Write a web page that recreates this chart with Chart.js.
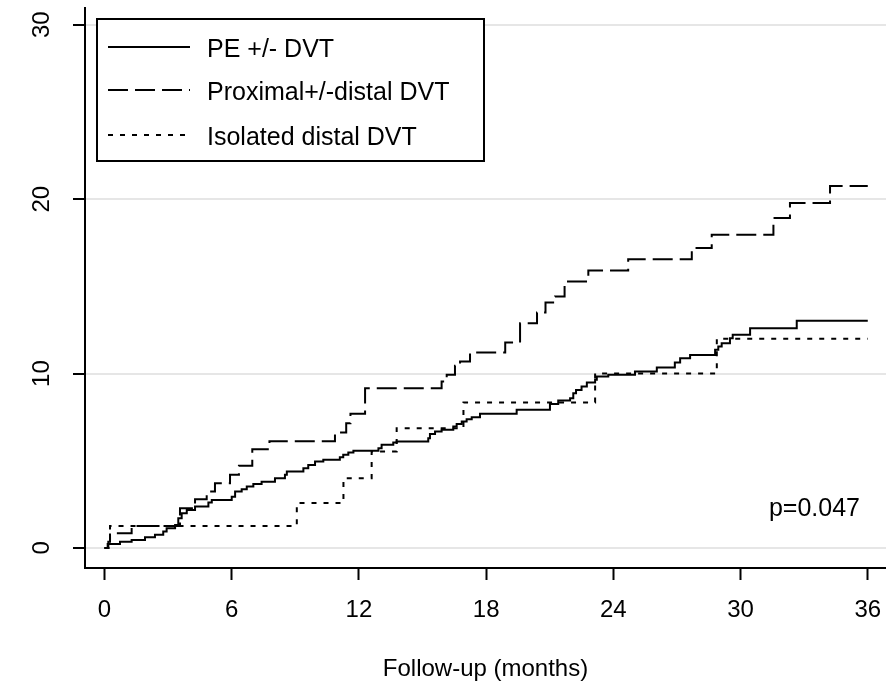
<!DOCTYPE html>
<html>
<head>
<meta charset="utf-8">
<script src="https://cdn.jsdelivr.net/npm/chart.js@4.4.0/dist/chart.umd.min.js"></script>
<style>
    html, body { margin: 0; padding: 0; background: #fff; }
    canvas { display: block; }
</style>
</head>
<body>
<canvas id="graficoIncidencia" width="886" height="684"></canvas>
<script>

// cumulative incidence (%), step changes at these months
const pe_meses = [0, 0.15, 0.73, 1.28, 1.91, 2.38, 2.77, 2.93, 3.33, 3.48, 3.64, 3.88, 4.27, 4.9, 5.06, 6.0, 6.16, 6.47, 6.71, 7.02, 7.41, 8.04, 8.51, 8.6, 9.38, 9.61, 9.93, 10.32, 11.1, 11.26, 11.5, 11.74, 12.92, 13.07, 13.62, 13.78, 15.27, 15.35, 15.59, 15.9, 16.45, 16.61, 16.85, 17.08, 17.32, 17.71, 19.44, 21.01, 21.4, 21.96, 22.11, 22.24, 22.5, 22.75, 23.14, 23.22, 23.76, 25.02, 26.05, 26.9, 27.15, 27.62, 28.8, 28.95, 29.11, 29.5, 29.63, 30.45, 32.65, 36];
const pe_valores = [0, 0.23, 0.36, 0.46, 0.61, 0.75, 0.94, 1.13, 1.32, 1.7, 1.99, 2.18, 2.37, 2.6, 2.75, 2.94, 3.23, 3.37, 3.52, 3.67, 3.8, 4.0, 4.19, 4.38, 4.57, 4.76, 4.95, 5.05, 5.2, 5.34, 5.47, 5.57, 5.72, 5.91, 6.04, 6.1, 6.29, 6.54, 6.67, 6.77, 6.96, 7.11, 7.25, 7.38, 7.5, 7.69, 7.92, 8.26, 8.45, 8.59, 8.87, 9.06, 9.25, 9.48, 9.64, 9.83, 9.93, 10.12, 10.34, 10.63, 10.88, 11.07, 11.36, 11.55, 11.74, 12.03, 12.22, 12.6, 13.02, 13.02];

const prox_meses = [0, 0.18, 0.26, 1.28, 3.56, 4.27, 4.82, 5.21, 5.92, 6.34, 6.97, 7.78, 10.87, 11.4, 11.6, 12.29, 15.9, 16.14, 16.53, 16.77, 17.24, 18.9, 19.6, 20.4, 20.8, 21.25, 21.7, 22.82, 24.7, 27.7, 28.64, 31.55, 32.33, 34.22, 36];
const prox_valores = [0, 0.36, 0.84, 1.26, 2.27, 2.79, 3.23, 3.71, 4.19, 4.72, 5.66, 6.12, 6.62, 7.15, 7.7, 9.16, 9.54, 9.93, 10.44, 10.69, 11.2, 11.78, 12.89, 13.5, 14.07, 14.42, 15.28, 15.91, 16.56, 17.2, 17.96, 18.92, 19.78, 20.75, 20.75];

const dist_meses = [0, 0.26, 9.07, 11.27, 12.6, 13.78, 16.93, 23.14, 28.88, 36];
const dist_valores = [0, 1.26, 2.58, 4.0, 5.53, 6.87, 8.34, 10.0, 12.0, 12.0];

const rotulos = ['PE +/- DVT', 'Proximal+/-distal DVT', 'Isolated distal DVT'];
const ticksX = [0, 6, 12, 18, 24, 30, 36];
const ticksY = [0, 10, 20, 30];
const textoP = 'p=0.047';

const fonte = 'Liberation Sans, Arial, sans-serif';

function pontos(meses, valores) {
    return meses.map((m, i) => ({ x: m, y: valores[i] }));
}

// legend with a frame, drawn inside the plot like the original
const caixaLegenda = {
    id: 'caixaLegenda',
    afterDatasetsDraw(chart) {
        const c = chart.ctx;
        const x0 = 97, y0 = 19, x1 = 484, y1 = 161;
        const linhasY = [47, 90, 135];
        c.save();
        c.fillStyle = '#fff';
        c.fillRect(x0, y0, x1 - x0, y1 - y0);
        c.strokeStyle = '#000';
        c.lineWidth = 2;
        c.strokeRect(x0, y0, x1 - x0, y1 - y0);

        chart.data.datasets.forEach((ds, i) => {
            c.beginPath();
            c.setLineDash(ds.borderDash || []);
            c.lineWidth = ds.borderWidth;
            c.strokeStyle = ds.borderColor;
            c.moveTo(108, linhasY[i]);
            c.lineTo(190, linhasY[i]);
            c.stroke();
            c.setLineDash([]);
            c.fillStyle = '#000';
            c.font = '25px ' + fonte;
            c.textBaseline = 'middle';
            c.textAlign = 'left';
            c.fillText(ds.label, 207, linhasY[i] + 3);
        });

        c.font = '25px ' + fonte;
        c.textAlign = 'right';
        c.textBaseline = 'middle';
        c.fillText(textoP, 860, 509);
        c.restore();
    }
};

const ctx = document.getElementById('graficoIncidencia');

new Chart(ctx, {
    type: 'line',
    data: {
        datasets: [
            {
                label: rotulos[0],
                data: pontos(pe_meses, pe_valores),
                borderColor: '#000',
                borderWidth: 2,
                borderDash: [],
                stepped: true,
                pointRadius: 0,
                fill: false
            },
            {
                label: rotulos[1],
                data: pontos(prox_meses, prox_valores),
                borderColor: '#000',
                borderWidth: 2,
                borderDash: [20, 7],
                stepped: true,
                pointRadius: 0,
                fill: false
            },
            {
                label: rotulos[2],
                data: pontos(dist_meses, dist_valores),
                borderColor: '#000',
                borderWidth: 2,
                borderDash: [5, 7],
                stepped: true,
                pointRadius: 0,
                fill: false
            }
        ]
    },
    options: {
        responsive: false,
        animation: false,
        layout: { padding: { top: 8, left: 0, right: 0, bottom: 0 } },
        plugins: {
            legend: { display: false },
            tooltip: { enabled: false }
        },
        scales: {
            x: {
                type: 'linear',
                min: -0.92,
                max: 36.86,
                afterBuildTicks: s => { s.ticks = ticksX.map(v => ({ value: v })); },
                afterFit: s => {
                    s.height = 116;
                    s.paddingLeft = 0;
                    s.paddingRight = 0;
                },
                grid: { drawOnChartArea: false, tickLength: 12, tickColor: '#000', tickWidth: 2 },
                border: { display: true, color: '#000', width: 2 },
                ticks: {
                    color: '#000',
                    font: { family: fonte, size: 24 },
                    padding: 16,
                    maxRotation: 0,
                    autoSkip: false
                },
                title: {
                    display: true,
                    text: 'Follow-up (months)',
                    color: '#000',
                    font: { family: fonte, size: 24 },
                    padding: { top: 0, bottom: 0 }
                }
            },
            y: {
                type: 'linear',
                min: -1.15,
                max: 30.96,
                afterBuildTicks: s => { s.ticks = ticksY.map(v => ({ value: v })); },
                afterFit: s => {
                    s.width = 85;
                    s.paddingTop = 0;
                    s.paddingBottom = 0;
                },
                grid: { color: '#e6e6e6', lineWidth: 2, tickColor: '#000', tickLength: 12, tickWidth: 2 },
                border: { display: true, color: '#000', width: 2 },
                ticks: {
                    color: '#000',
                    font: { family: fonte, size: 24 },
                    minRotation: 90,
                    maxRotation: 90,
                    crossAlign: 'center',
                    padding: 17,
                    autoSkip: false
                }
            }
        }
    },
    plugins: [caixaLegenda]
});
</script>
</body>
</html>
